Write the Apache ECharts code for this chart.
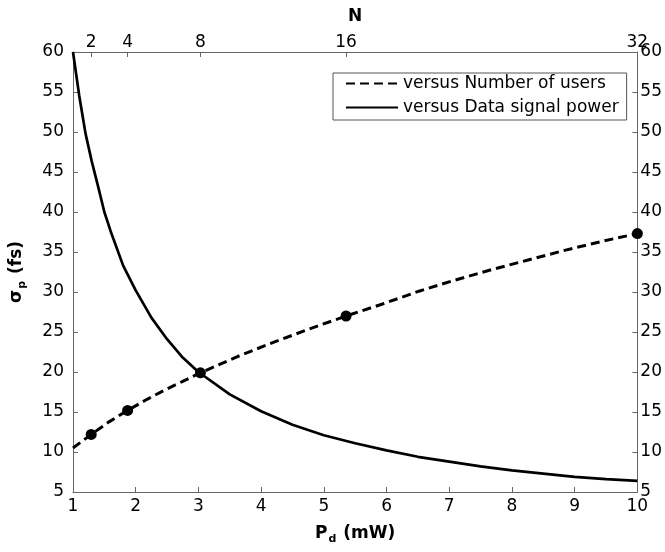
<!DOCTYPE html>
<html>
<head>
<meta charset="utf-8">
<script src="https://cdn.jsdelivr.net/npm/echarts@6/dist/echarts.min.js"></script>
<style>
html,body{margin:0;padding:0;background:#fff;}
#chart{width:665px;height:552px;}
</style>
</head>
<body>
<div id="chart"></div>
<script>
// Solid curve: sigma_p versus data signal power Pd (mW)
var pdValues = [1, 1.1, 1.2, 1.3, 1.4, 1.5, 1.6, 1.8, 2, 2.25, 2.5, 2.75, 3, 3.5, 4, 4.5, 5, 5.5, 6, 6.5, 7, 7.5, 8, 8.5, 9, 9.5, 10];
var sigmaVsPd = [60, 54.5, 49.8, 46.3, 43.2, 40.0, 37.6, 33.3, 30.2, 26.8, 24.1, 21.8, 20.0, 17.2, 15.1, 13.4, 12.1, 11.1, 10.2, 9.4, 8.8, 8.2, 7.7, 7.3, 6.9, 6.6, 6.4];
// Dashed curve: sigma_p versus number of users N
var nValues = [1, 2, 3, 4, 5, 6, 7, 8, 10, 12, 14, 16, 18, 20, 22, 24, 26, 28, 30, 32];
var sigmaVsN = [10.5, 12.2, 13.8, 15.2, 16.5, 17.7, 18.8, 19.9, 21.9, 23.7, 25.4, 27.0, 28.5, 30.1, 31.5, 32.8, 34.0, 35.2, 36.3, 37.3];
var markerN = [2, 4, 8, 16, 32];
var markerSigma = [12.2, 15.2, 19.9, 27.0, 37.3];
var topTicks = [2, 4, 8, 16, 32];
var seriesNames = ['versus Number of users', 'versus Data signal power'];

function pairs(xs, ys) { return xs.map(function (x, i) { return [x, ys[i]]; }); }

var FONT = 'DejaVu Sans';
var axisGray = '#666';
var chart = echarts.init(document.getElementById('chart'), null, {renderer: 'canvas'});

var option = {
  backgroundColor: '#fff',
  animation: false,
  grid: {left: 71.5, right: 26.5, top: 52, bottom: 60, containLabel: false},
  legend: {
    orient: 'vertical',
    left: 333, top: 73,
    padding: [2, 8, 4, 12],
    itemWidth: 52, itemHeight: 14, itemGap: 7,
    borderColor: '#555', borderWidth: 1,
    backgroundColor: '#fff',
    itemStyle: {color: 'rgba(0,0,0,0)', borderWidth: 0, opacity: 0},
    textStyle: {fontFamily: FONT, fontSize: 17, color: '#000'},
    data: seriesNames
  },
  xAxis: [
    {
      type: 'value', position: 'bottom', min: 1, max: 10, interval: 1,
      axisLine: {show: true, lineStyle: {color: axisGray, width: 1}},
      axisTick: {show: true, inside: true, length: 5, lineStyle: {color: axisGray}},
      axisLabel: {fontFamily: FONT, fontSize: 17, color: '#000', margin: 6},
      splitLine: {show: false},
      name: '{b|P}{s|d}{b| (mW)}', nameLocation: 'middle', nameGap: 30,
      nameTextStyle: {
        fontFamily: FONT, fontSize: 17, fontWeight: 'bold', color: '#000',
        rich: {
          b: {fontFamily: FONT, fontSize: 17, fontWeight: 'bold', color: '#000'},
          s: {fontFamily: FONT, fontSize: 11, fontWeight: 'bold', color: '#000', padding: [12, 1, 0, 1]}
        }
      }
    },
    {
      type: 'value', position: 'top', min: 1, max: 32,
      axisLine: {show: true, lineStyle: {color: axisGray, width: 1}},
      axisTick: {show: true, inside: true, length: 5, lineStyle: {color: axisGray}, customValues: topTicks},
      axisLabel: {fontFamily: FONT, fontSize: 17, color: '#000', margin: 1, customValues: topTicks},
      splitLine: {show: false},
      name: 'N', nameLocation: 'middle', nameGap: 27,
      nameTextStyle: {fontFamily: FONT, fontSize: 17, fontWeight: 'bold', color: '#000'}
    }
  ],
  yAxis: [
    {
      type: 'value', position: 'left', min: 5, max: 60, interval: 5,
      axisLine: {show: true, lineStyle: {color: axisGray, width: 1}},
      axisTick: {show: true, inside: true, length: 5, lineStyle: {color: axisGray}},
      axisLabel: {fontFamily: FONT, fontSize: 17, color: '#000', margin: 9},
      splitLine: {show: false},
      name: '{b|σ}{s|p}{b| (fs)}', nameLocation: 'middle', nameGap: 45,
      nameTextStyle: {
        fontFamily: FONT, fontSize: 17, fontWeight: 'bold', color: '#000',
        rich: {
          b: {fontFamily: FONT, fontSize: 17, fontWeight: 'bold', color: '#000'},
          s: {fontFamily: FONT, fontSize: 11, fontWeight: 'bold', color: '#000', padding: [12, 1, 0, 1]}
        }
      }
    },
    {
      type: 'value', position: 'right', min: 5, max: 60, interval: 5,
      axisLine: {show: true, lineStyle: {color: axisGray, width: 1}},
      axisTick: {show: true, inside: true, length: 5, lineStyle: {color: axisGray}},
      axisLabel: {fontFamily: FONT, fontSize: 17, color: '#000', margin: 3},
      splitLine: {show: false}
    }
  ],
  series: [
    {
      name: seriesNames[0], type: 'line', xAxisIndex: 1, yAxisIndex: 0,
      data: pairs(nValues, sigmaVsN), symbol: 'none', smooth: false,
      lineStyle: {color: '#000', width: 3, type: [9, 5]},
      itemStyle: {color: '#000'}, z: 3
    },
    {
      name: seriesNames[1], type: 'line', xAxisIndex: 0, yAxisIndex: 0,
      data: pairs(pdValues, sigmaVsPd), symbol: 'none', smooth: false,
      lineStyle: {color: '#000', width: 2.7, type: 'solid'},
      itemStyle: {color: '#000'}, z: 3
    },
    {
      name: 'markers', type: 'scatter', xAxisIndex: 1, yAxisIndex: 0,
      data: pairs(markerN, markerSigma), symbol: 'circle', symbolSize: 11,
      itemStyle: {color: '#000', opacity: 1}, clip: false, z: 4
    }
  ]
};
chart.setOption(option);
</script>
</body>
</html>
